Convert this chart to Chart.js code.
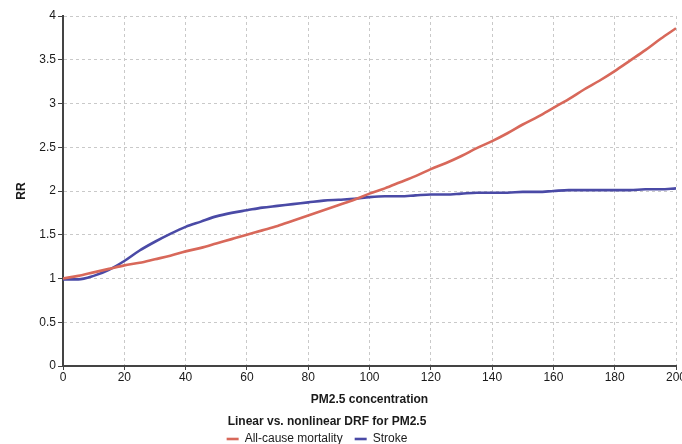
<!DOCTYPE html>
<html>
<head>
<meta charset="utf-8">
<script src="https://cdn.jsdelivr.net/npm/chart.js@4/dist/chart.umd.min.js"></script>
<style>
    html, body { margin: 0; padding: 0; background: #fff; }
    .chart-wrap { position: relative; width: 682px; height: 444px; }
</style>
</head>
<body>
<div class="chart-wrap"><canvas id="drfChart"></canvas></div>
<script>
// PM2.5 concentration, step 5
const concentration = [0, 5, 10, 15, 20, 25, 30, 35, 40, 45, 50, 55, 60, 65, 70, 75, 80, 85, 90, 95, 100,
    105, 110, 115, 120, 125, 130, 135, 140, 145, 150, 155, 160, 165, 170, 175, 180, 185, 190, 195, 200];

// Relative risk, all-cause mortality (linear DRF)
const allCause = [1.00, 1.03, 1.07, 1.11, 1.15, 1.18, 1.22, 1.26, 1.31, 1.35, 1.40, 1.45, 1.50, 1.55, 1.60, 1.66, 1.72, 1.78, 1.84, 1.90, 1.97,
    2.03, 2.10, 2.17, 2.25, 2.32, 2.40, 2.49, 2.57, 2.66, 2.76, 2.85, 2.95, 3.05, 3.16, 3.26, 3.37, 3.49, 3.61, 3.74, 3.86];

// Relative risk, stroke (nonlinear DRF)
const stroke = [0.99, 0.99, 1.03, 1.10, 1.20, 1.32, 1.42, 1.51, 1.59, 1.65, 1.71, 1.75, 1.78, 1.81, 1.83, 1.85, 1.87, 1.89, 1.90, 1.91, 1.93,
    1.94, 1.94, 1.95, 1.96, 1.96, 1.97, 1.98, 1.98, 1.98, 1.99, 1.99, 2.00, 2.01, 2.01, 2.01, 2.01, 2.01, 2.02, 2.02, 2.03];

const xTicks = [0, 20, 40, 60, 80, 100, 120, 140, 160, 180, 200];

const red = 'rgb(216,104,90)';
const blue = 'rgb(74,74,166)';
const gridColor = '#c9c9c9';
const axisColor = '#444';
const textColor = '#1a1a1a';

Chart.defaults.font.family = '"Liberation Sans", Arial, sans-serif';
Chart.defaults.font.size = 12;
Chart.defaults.color = textColor;

const toPoints = arr => arr.map((v, i) => ({ x: concentration[i], y: v }));

// nudge the legend row a bit left of the title's centre line
const legendShift = {
    id: 'legendShift',
    afterLayout(chart) {
        chart.legend.left -= 10;
        chart.legend.right -= 10;
    }
};

new Chart(document.getElementById('drfChart'), {
    type: 'line',
    data: {
        datasets: [{
            label: 'All-cause mortality',
            data: toPoints(allCause),
            borderColor: red,
            backgroundColor: red,
            borderWidth: 2.6,
            pointRadius: 0,
            cubicInterpolationMode: 'monotone'
        }, {
            label: 'Stroke',
            data: toPoints(stroke),
            borderColor: blue,
            backgroundColor: blue,
            borderWidth: 2.6,
            pointRadius: 0,
            cubicInterpolationMode: 'monotone'
        }]
    },
    options: {
        responsive: true, maintainAspectRatio: false,
        animation: false,
        layout: { padding: { left: -28, right: 0, top: 16, bottom: -11 } },
        plugins: {
            title: {
                display: true,
                text: 'Linear vs. nonlinear DRF for PM2.5',
                position: 'bottom',
                weight: 500,
                color: textColor,
                font: { size: 12, weight: 'bold' },
                padding: { top: 7.6, bottom: -8.2 }
            },
            legend: {
                position: 'bottom',
                weight: 1000,
                labels: {
                    color: textColor,
                    usePointStyle: true,
                    pointStyle: 'line',
                    pointStyleWidth: 12,
                    padding: 12,
                    font: { size: 12 }
                }
            },
            tooltip: { enabled: false }
        },
        scales: {
            x: {
                type: 'linear',
                min: 0, max: 200,
                afterBuildTicks: s => { s.ticks = xTicks.map(v => ({ value: v })); },
                afterFit: s => { s.paddingRight = 6; },
                grid: { color: gridColor, tickColor: axisColor, tickBorderDash: [], tickLength: 4 },
                border: { color: axisColor, width: 2, dash: [3, 3] },
                ticks: { padding: 0, color: textColor, maxRotation: 0, font: { size: 12 } },
                title: { display: true, text: 'PM2.5 concentration', color: textColor, font: { size: 12, weight: 'bold' }, padding: { top: 8.4, bottom: 0 } }
            },
            y: {
                min: 0, max: 4,
                afterFit: s => { s.width = 91; },
                grid: { color: gridColor, tickColor: axisColor, tickBorderDash: [], tickLength: 5 },
                border: { color: axisColor, width: 2, dash: [3, 3] },
                ticks: { stepSize: 0.5, padding: 2, color: textColor, font: { size: 12 }, callback: v => String(v) },
                title: { display: true, text: 'RR', color: textColor, font: { size: 12, weight: 'bold' }, padding: { top: 42, bottom: 0 } }
            }
        }
    },
    plugins: [legendShift]
});
</script>
</body>
</html>
